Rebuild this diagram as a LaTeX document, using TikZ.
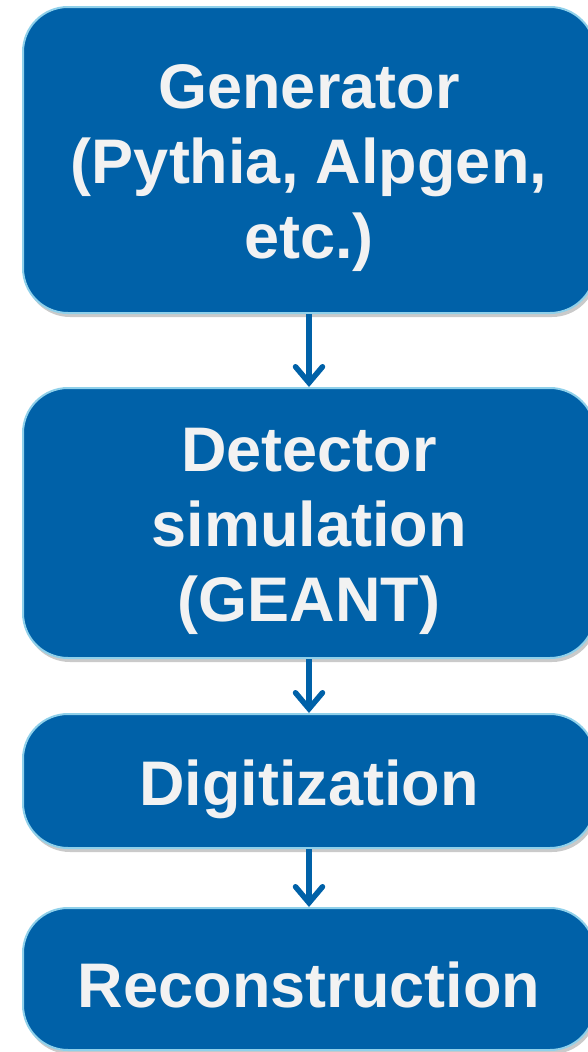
\documentclass[tikz,border=0pt]{standalone}
\usepackage{fontspec}
\setmainfont{Liberation Sans}
\usepackage{xcolor}
\usetikzlibrary{arrows.meta,shadows}
\definecolor{stepblue}{HTML}{0061A8}
\definecolor{stepedge}{HTML}{8FD0EA}
\definecolor{steptext}{HTML}{F2F2F2}

\begin{document}
\begin{tikzpicture}[
    x=1pt, y=-1pt,
    >={Straight Barb[length=16pt, width=27pt, line cap=round]},
    every node/.style={font=\fontsize{63}{75}\selectfont\bfseries},
    stage/.style={draw=stepedge, line width=2pt, fill=stepblue,
                  rounded corners=45pt, minimum width=572pt, inner sep=0pt,
                  drop shadow={shadow xshift=2pt, shadow yshift=-4pt,
                               opacity=0.35, fill=black!60}},
    caption/.style={text=steptext, align=center, inner sep=0pt, yshift=-8pt},
    flow/.style={->, draw=stepblue, line width=5.5pt},
  ]
  \useasboundingbox (0,0) rectangle (587,1052);
  %% ---- Stages ----
  \node[stage, minimum height=306pt] (gen)  at (309,160) {};
  \node[stage, minimum height=270pt] (sim)  at (309,523) {};
  \node[stage, minimum height=134pt] (digi) at (309,781) {};
  \node[stage, minimum height=142pt] (reco) at (309,979) {};
  %% ---- Texts ----
  \node[caption] (gen-t)  at (gen)  {Generator\\(Pythia, Alpgen,\\etc.)};
  \node[caption] (sim-t)  at (sim)  {Detector\\simulation\\(GEANT)};
  \node[caption] (digi-t) at (digi) {Digitization};
  \node[caption, yshift=2pt] (reco-t) at (reco) {Reconstruction};
  %% ---- Arrows ----
  \draw[flow] (gen)  -- (sim);
  \draw[flow] (sim)  -- (digi);
  \draw[flow] (digi) -- (reco);
\end{tikzpicture}
\end{document}
